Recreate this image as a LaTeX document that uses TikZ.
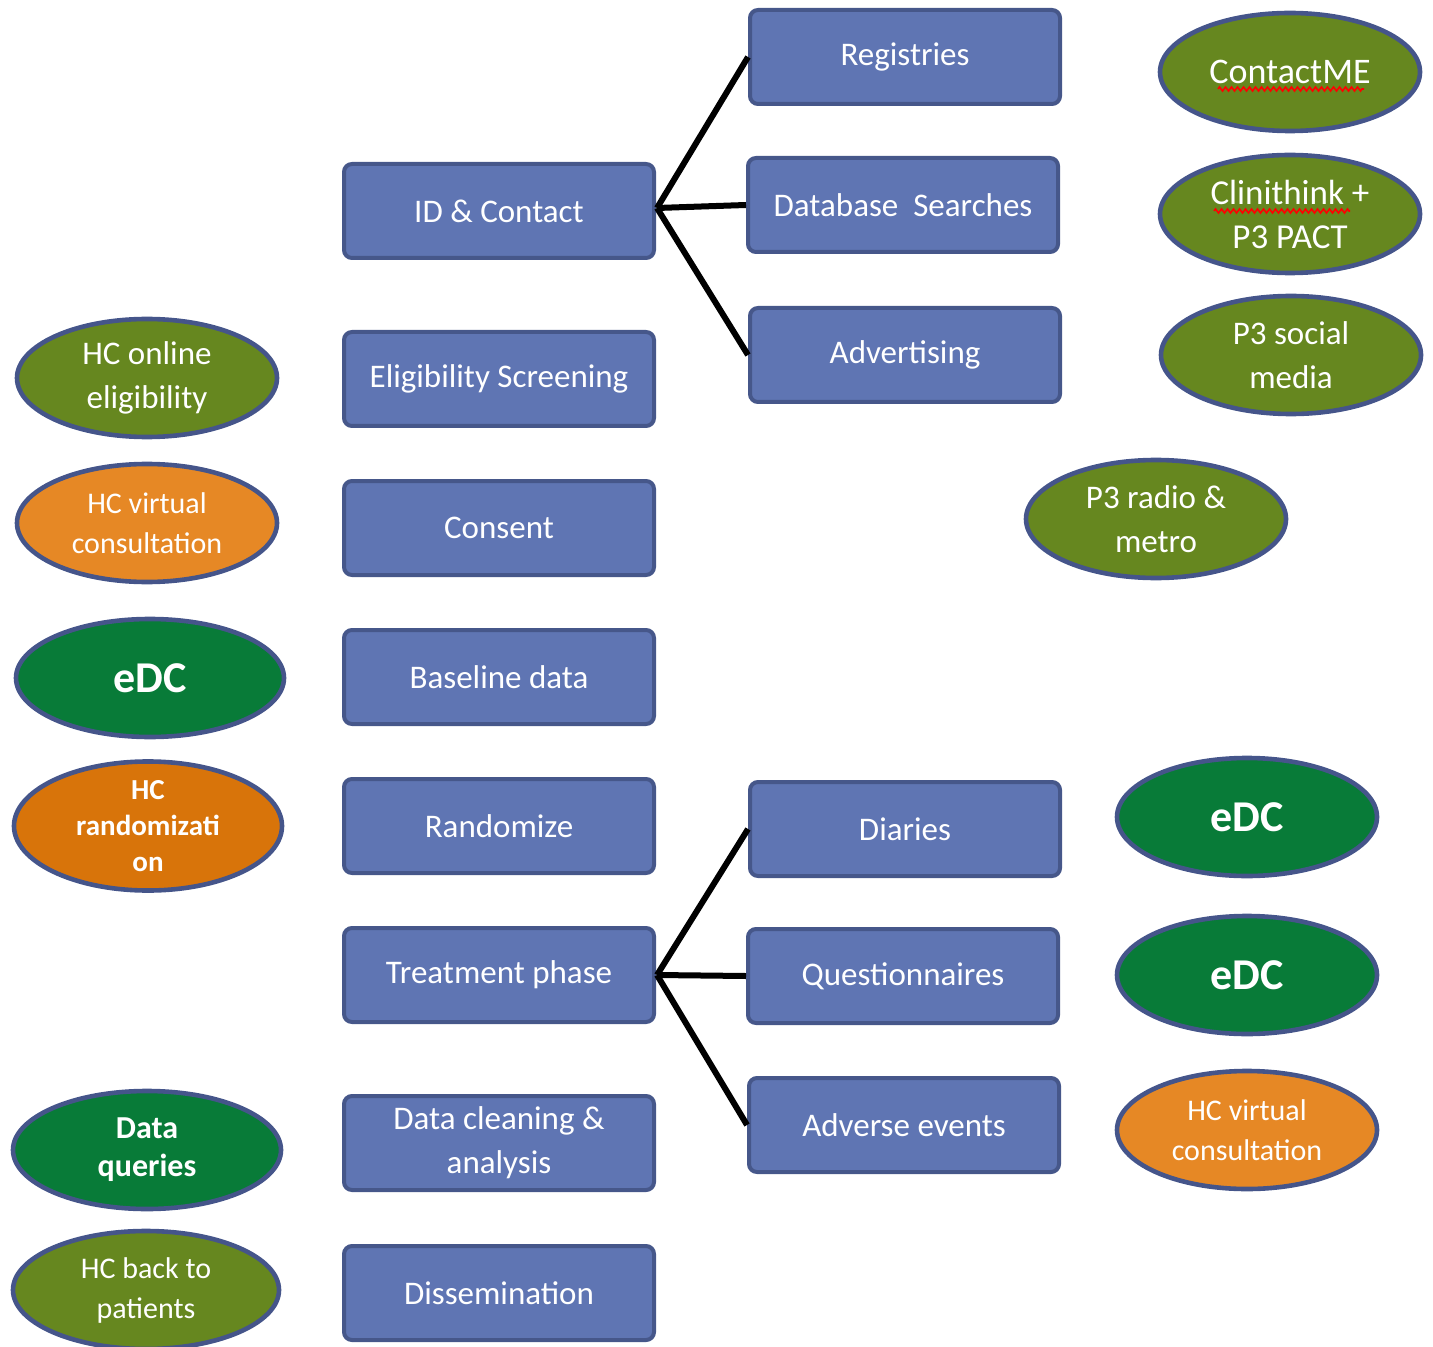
\documentclass[tikz,border=0pt]{standalone}
\usepackage{fontspec}
\setmainfont{Carlito}
\usetikzlibrary{shapes.geometric,decorations.pathmorphing,calc}
\definecolor{boxfill}{HTML}{5F75B3}
\definecolor{boxedge}{HTML}{46578A}
\definecolor{olive}{HTML}{66871F}
\definecolor{dkgreen}{HTML}{087B38}
\definecolor{orangeA}{HTML}{E68825}
\definecolor{orangeB}{HTML}{D8740A}
\definecolor{ovedge}{HTML}{45558A}
\tikzset{
  stepbox/.style={draw=boxedge, line width=2pt, fill=boxfill, rounded corners=4pt,
    minimum width=155pt, minimum height=47pt, text=white, align=center,
    font=\fontsize{16.5}{22}\selectfont},
  oval/.style={ellipse, draw=ovedge, line width=2.3pt, minimum width=130pt,
    minimum height=59pt, inner sep=0pt, text=white, align=center,
    font=\fontsize{16.5}{22}\selectfont},
  og/.style={oval, fill=olive},
  dg/.style={oval, fill=dkgreen},
  oa/.style={oval, fill=orangeA},
  ob/.style={oval, fill=orangeB},
  link/.style={line width=3pt, black},
  spell/.style={red, line width=0.8pt, decorate, decoration={zigzag, amplitude=1pt, segment length=3pt}}
}
\begin{document}
\begin{tikzpicture}[x=0.5pt,y=-0.5pt]
\useasboundingbox (0,0) rectangle (1433,1347);
% main column
\node[stepbox] (idc) at (499,211) {ID \& Contact};
\node[stepbox] (elig) at (499,379) {Eligibility Screening};
\node[stepbox] (cons) at (499,528) {Consent};
\node[stepbox] (base) at (499,677) {Baseline data};
\node[stepbox] (rand) at (499,826) {Randomize};
\node[stepbox] (treat) at (499,975) {Treatment phase};
\node[stepbox] (clean) at (499,1143) {Data cleaning \&\\analysis};
\node[stepbox] (diss) at (499,1293) {Dissemination};
% right column
\node[stepbox] (reg) at (905,57) {Registries};
\node[stepbox] (dbs) at (903,205) {Database\ \ Searches};
\node[stepbox] (adv) at (905,355) {Advertising};
\node[stepbox] (dia) at (905,829) {Diaries};
\node[stepbox] (que) at (903,976) {Questionnaires};
\node[stepbox] (ae) at (904,1125) {Adverse events};
% connectors
\coordinate (j1) at ($(idc.east)+(1,-3)$);
\draw[link] (j1) -- (reg.west);
\draw[link] (j1) -- (dbs.west);
\draw[link] (j1) -- (adv.west);
\coordinate (j2) at ($(treat.east)+(1,0)$);
\draw[link] (j2) -- (dia.west);
\draw[link] (j2) -- (que.west);
\draw[link] (j2) -- (ae.west);
% ovals right top
\node[og, font=\fontsize{18}{22}\selectfont] (cme) at (1290,72) {ContactME};
\draw[spell] ($(cme.center)+(-72,17)$) -- ($(cme.center)+(74,17)$);
\node[og, font=\fontsize{17.5}{22}\selectfont] (clin) at (1290,214) {Clinithink +\\P3 PACT};
\draw[spell] ($(clin.center)+(-76,-3)$) -- ($(clin.center)+(60,-3)$);
\node[og] (soc) at (1291,355) {P3 social\\media};
\node[og] (radio) at (1156,519) {P3 radio \&\\metro};
% ovals left
\node[og] (hconl) at (147,378) {HC online\\eligibility};
\node[oa, font=\fontsize{15}{20}\selectfont] (hcv1) at (147,523) {HC virtual\\consultation};
\node[dg, minimum width=134pt, font=\fontsize{22}{26}\selectfont\bfseries] (edc1) at (150,678) {eDC};
\node[ob, minimum width=134pt, font=\fontsize{14.5}{18}\selectfont\bfseries] (hcr) at (148,826) {HC\\randomizati\\on};
\node[dg, minimum width=134pt, font=\fontsize{16}{19}\selectfont\bfseries] (dq) at (147,1150) {Data\\queries};
\node[og, minimum width=133pt, font=\fontsize{15}{20}\selectfont] (hcb) at (146,1290) {HC back to\\patients};
% ovals right bottom
\node[dg, font=\fontsize{22}{26}\selectfont\bfseries] (edc2) at (1247,817) {eDC};
\node[dg, font=\fontsize{22}{26}\selectfont\bfseries] (edc3) at (1247,975) {eDC};
\node[oa, font=\fontsize{15}{20}\selectfont] (hcv2) at (1247,1130) {HC virtual\\consultation};
\end{tikzpicture}
\end{document}
